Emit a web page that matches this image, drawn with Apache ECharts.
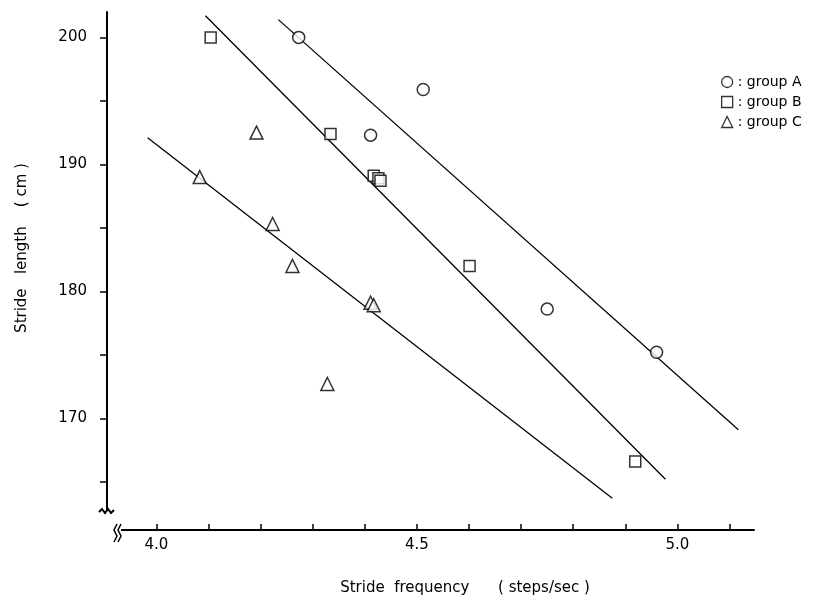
<!DOCTYPE html>
<html>
<head>
<meta charset="utf-8">
<script src="https://cdn.jsdelivr.net/npm/echarts@6/dist/echarts.min.js"></script>
<style>html,body{margin:0;padding:0;background:#fff;}#chart{width:823px;height:612px;}</style>
</head>
<body>
<div id="chart"></div>
<script>
// ---- data ----
const groupA_x = [4.273, 4.512, 4.411, 4.750, 4.960];
const groupA_y = [200.0, 195.9, 192.3, 178.6, 175.2];
const groupB_x = [4.104, 4.334, 4.417, 4.426, 4.430, 4.601, 4.919];
const groupB_y = [200.0, 192.4, 189.1, 188.9, 188.7, 182.0, 166.6];
const groupC_x = [4.192, 4.083, 4.223, 4.261, 4.411, 4.417, 4.328];
const groupC_y = [192.5, 189.0, 185.3, 182.0, 179.1, 178.9, 172.7];
const lineA_x = [4.234, 5.117];
const lineA_y = [201.4, 169.1];
const lineB_x = [4.094, 4.977];
const lineB_y = [201.7, 165.2];
const lineC_x = [3.983, 4.875];
const lineC_y = [192.1, 163.7];
const xTickValues = [4.0, 4.1, 4.2, 4.3, 4.4, 4.5, 4.6, 4.7, 4.8, 4.9, 5.0, 5.1];
const xLabelValues = [4.0, 4.5, 5.0];
const yTickValues = [165, 170, 175, 180, 185, 190, 195, 200];
const yLabelValues = [170, 180, 190, 200];
const seriesNames = ['group A', 'group B', 'group C'];

const zip = (xs, ys) => xs.map((x, i) => [x, ys[i]]);
const FONT = 'DejaVu Sans';

const chart = echarts.init(document.getElementById('chart'));
const markerStyle = { color: '#fff', borderColor: '#000', borderWidth: 1.5 };
const lineStyle = { color: '#000', width: 1.3 };

chart.setOption({
  animation: false,
  backgroundColor: '#fff',
  grid: { left: 107, top: 12, width: 647, height: 518 },
  legend: {
    data: seriesNames.map((n, i) => ({ name: n, icon: ['circle', 'rect', 'triangle'][i] })),
    orient: 'vertical',
    left: 716,
    top: 70,
    itemWidth: 11,
    itemHeight: 11,
    itemGap: 6,
    formatter: n => ': ' + n,
    textStyle: { fontFamily: FONT, fontSize: 14, color: '#000' },
    itemStyle: { color: '#fff', borderColor: '#000', borderWidth: 1.3 }
  },
  xAxis: {
    type: 'value',
    min: 3.905,
    max: 5.147,
    splitLine: { show: false },
    axisLine: { show: true, lineStyle: { color: '#000', width: 2 } },
    axisTick: { show: true, inside: true, length: 6, customValues: xTickValues, lineStyle: { color: '#000', width: 1.5 } },
    axisLabel: { customValues: xLabelValues, formatter: v => v.toFixed(1), fontFamily: FONT, fontSize: 15, color: '#000', margin: 8 }
  },
  yAxis: {
    type: 'value',
    min: 161.2,
    max: 202.0,
    splitLine: { show: false },
    axisLine: { show: true, lineStyle: { color: '#000', width: 2 } },
    axisTick: { show: true, inside: false, length: 7, customValues: yTickValues, lineStyle: { color: '#000', width: 1.5 } },
    axisLabel: { customValues: yLabelValues, fontFamily: FONT, fontSize: 15, color: '#000', margin: 20 }
  },
  graphic: [
    { type: 'rect', shape: { x: 96, y: 506, width: 27, height: 44 }, style: { fill: '#fff' }, z: 100 },
    { type: 'polyline', shape: { points: [[107, 506], [107, 511]] }, style: { stroke: '#000', lineWidth: 2, fill: null }, z: 101 },
    { type: 'polyline', shape: { points: [[99, 512], [102, 509], [105, 513], [108, 509], [111, 513], [114, 510]] }, style: { stroke: '#000', lineWidth: 2, fill: null }, z: 101 },
    { type: 'polyline', shape: { points: [[117, 524], [114, 530], [117, 536], [114, 542]] }, style: { stroke: '#000', lineWidth: 1.5, fill: null }, z: 101 },
    { type: 'polyline', shape: { points: [[121, 524], [118, 530], [121, 536], [118, 542]] }, style: { stroke: '#000', lineWidth: 1.5, fill: null }, z: 101 },
    { type: 'polyline', shape: { points: [[121, 530], [124, 530]] }, style: { stroke: '#000', lineWidth: 2, fill: null }, z: 101 },
    { type: 'text', x: 465, y: 588, style: { text: 'Stride  frequency      ( steps/sec )', font: '15px "DejaVu Sans"', fill: '#000', align: 'center', verticalAlign: 'middle' } },
    { type: 'text', x: 22, y: 248, rotation: Math.PI / 2, style: { text: 'Stride   length    ( cm )', font: '15px "DejaVu Sans"', fill: '#000', align: 'center', verticalAlign: 'middle' } }
  ],
  series: [
    { name: 'lineA', type: 'line', data: zip(lineA_x, lineA_y), symbol: 'none', lineStyle: lineStyle, silent: true, z: 1 },
    { name: 'lineB', type: 'line', data: zip(lineB_x, lineB_y), symbol: 'none', lineStyle: lineStyle, silent: true, z: 1 },
    { name: 'lineC', type: 'line', data: zip(lineC_x, lineC_y), symbol: 'none', lineStyle: lineStyle, silent: true, z: 1 },
    { name: 'group A', type: 'scatter', symbol: 'circle', symbolSize: 12, data: zip(groupA_x, groupA_y), itemStyle: markerStyle, z: 3 },
    { name: 'group B', type: 'scatter', symbol: 'rect', symbolSize: 11, data: zip(groupB_x, groupB_y), itemStyle: markerStyle, z: 3 },
    { name: 'group C', type: 'scatter', symbol: 'triangle', symbolSize: 13, data: zip(groupC_x, groupC_y), itemStyle: markerStyle, z: 3 }
  ]
});
</script>
</body>
</html>
